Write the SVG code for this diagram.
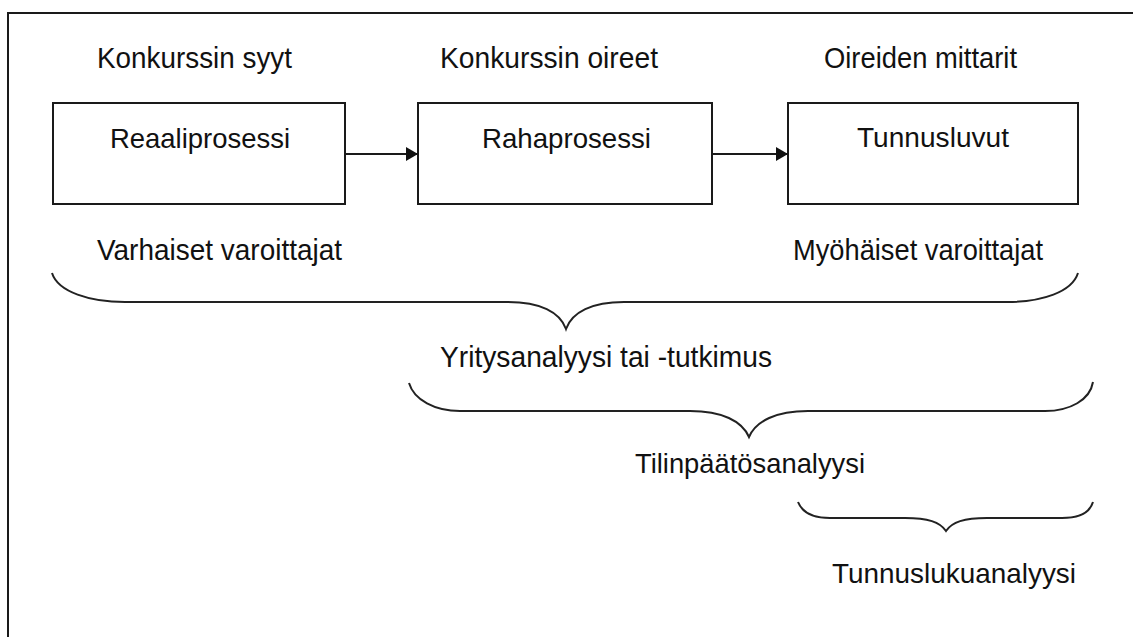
<svg xmlns="http://www.w3.org/2000/svg" width="1133" height="637" viewBox="0 0 1133 637">
<style>
text{font-family:"Liberation Sans",Arial,sans-serif;font-size:27px;fill:#111}
.box{fill:#fff;stroke:#1a1a1a;stroke-width:2}
.ln{fill:none;stroke:#1a1a1a;stroke-width:2}
.br{fill:none;stroke:#222;stroke-width:2}
</style>
<defs>
<marker id="ah" viewBox="0 0 12 14" refX="12" refY="7" markerWidth="12" markerHeight="14" markerUnits="userSpaceOnUse" orient="auto">
<path d="M0,0 L12,7 L0,14 Z" fill="#111"/>
</marker>
</defs>
<rect x="0" y="0" width="1133" height="637" fill="#fff"/>
<rect x="8" y="13" width="1140" height="640" class="ln"/>
<g id="labels-top">
<text transform="translate(97,68) scale(1,1.1)" textLength="195" lengthAdjust="spacingAndGlyphs">Konkurssin syyt</text>
<text transform="translate(440,68) scale(1,1.1)" textLength="218" lengthAdjust="spacingAndGlyphs">Konkurssin oireet</text>
<text transform="translate(824,68) scale(1,1.1)" textLength="193" lengthAdjust="spacingAndGlyphs">Oireiden mittarit</text>
</g>
<g id="node-reaaliprosessi">
<rect x="53" y="103" width="292" height="101" class="box"/>
<text transform="translate(110,148) scale(1,1.05)" textLength="180" lengthAdjust="spacingAndGlyphs">Reaaliprosessi</text>
</g>
<g id="node-rahaprosessi">
<rect x="418" y="103" width="294" height="101" class="box"/>
<text transform="translate(482,148) scale(1,1.05)" textLength="169" lengthAdjust="spacingAndGlyphs">Rahaprosessi</text>
</g>
<g id="node-tunnusluvut">
<rect x="788" y="103" width="290" height="101" class="box"/>
<text transform="translate(857,147) scale(1,1.05)" textLength="152" lengthAdjust="spacingAndGlyphs">Tunnusluvut</text>
</g>
<g id="connectors">
<line x1="345" y1="154" x2="418" y2="154" class="ln" marker-end="url(#ah)"/>
<line x1="712" y1="154" x2="788" y2="154" class="ln" marker-end="url(#ah)"/>
</g>
<g id="braces">
<path class="br" d="M52,273 C58,292 90,302 125,302 L508,302 C540,302 560,312 566,329 C572,312 592,302 624,302 L1007,302 C1042,302 1072,292 1078,273"/>
<path class="br" d="M409,383 C414,400 435,411 460,411 L690,411 C722,411 742,421 749,437 C756,421 776,411 808,411 L1045,411 C1070,411 1090,400 1093,382"/>
<path class="br" d="M798,502 C802,512 812,518 830,518 L905,518 C928,518 940,522 946,531 C952,522 964,518 987,518 L1062,518 C1080,518 1090,512 1093,502"/>
</g>
<g id="labels-bottom">
<text transform="translate(97,260) scale(1,1.12)" textLength="245" lengthAdjust="spacingAndGlyphs">Varhaiset  varoittajat</text>
<text transform="translate(793,260) scale(1,1.12)" textLength="250" lengthAdjust="spacingAndGlyphs">Myöhäiset varoittajat</text>
<text transform="translate(440,367) scale(1,1.1)" textLength="332" lengthAdjust="spacingAndGlyphs">Yritysanalyysi  tai  -tutkimus</text>
<text transform="translate(635,473) scale(1,1.05)" textLength="230" lengthAdjust="spacingAndGlyphs">Tilinpäätösanalyysi</text>
<text transform="translate(832,583) scale(1,1.05)" textLength="244" lengthAdjust="spacingAndGlyphs">Tunnuslukuanalyysi</text>
</g>
</svg>
